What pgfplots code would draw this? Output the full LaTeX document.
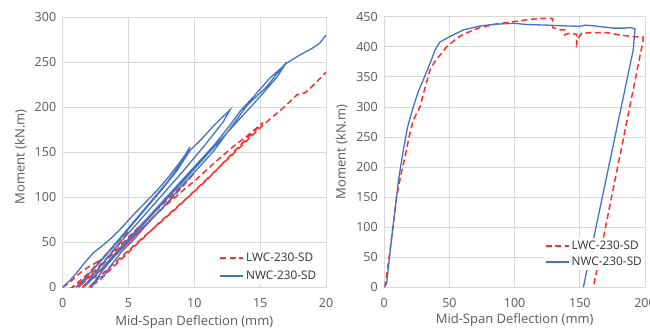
\documentclass[border=0pt]{standalone}
\usepackage{fontspec}
\setmainfont{Open Sans}
\usepackage{pgfplots}
\pgfplotsset{compat=1.18}
\definecolor{tickgray}{RGB}{89,89,89}
\definecolor{gridgray}{RGB}{217,217,217}
\definecolor{lwcred}{RGB}{255,45,45}
\definecolor{nwcblue}{RGB}{68,114,196}
\pgfplotsset{
  chartbase/.style={
    scale only axis,
    anchor=south west,
    /pgf/number format/assume math mode=true,
    grid=major,
    grid style={draw=gridgray, line width=0.8pt},
    axis line style={draw=gridgray, line width=0.8pt},
    major tick length=0pt,
    tick label style={font=\fontsize{12.5}{14}\selectfont, text=tickgray},
    xticklabel style={yshift=-8pt},
    yticklabel style={xshift=-3pt},
    label style={font=\fontsize{13}{15}\selectfont, text=tickgray},
    ymin=0,
    legend cell align=left,
    legend style={draw=none, fill=white, font=\fontsize{11.8}{13}\selectfont, text=black!80, inner sep=1pt},
    legend image code/.code={\draw[#1, line width=1.5pt] (0pt,0pt) -- (23pt,0pt);},
    clip=true,
  },
  lwc/.style={color=lwcred, line width=1.5pt, dash pattern=on 6pt off 3.5pt},
  nwc/.style={color=nwcblue, line width=1.3pt},
}
\begin{document}
\begin{tikzpicture}[x=1pt,y=1pt]
\clip (0,0) rectangle (650,329);
% ---------------- left panel ----------------
\begin{axis}[chartbase,
  at={(62.7pt,41.7pt)}, width=263.3pt, height=270pt,
  xmin=0, xmax=20, ymax=300,
  xtick={0,5,10,15,20}, ytick={0,50,100,150,200,250,300},
  xlabel={Mid-Span Deflection (mm)}, ylabel={Moment (kN.m)},
  xlabel style={at={(axis description cs:0.5,-0.127)}, anchor=center},
  ylabel style={at={(axis description cs:-0.1595,0.484)}, anchor=center},
  legend style={at={(axis description cs:0.975,0.012)}, anchor=south east, row sep=4pt},
]
\addplot[lwc] coordinates {
(0,0)(0.5,5)(1,12)(1.5,18)(2,23)(2.6,28)
(2.2,18)(1.6,8)(1.1,2)(0.7,0)
(1.2,6)(2,16)(2.6,26)(3.5,40)(4.3,52)(5,62)
(4.3,48)(3.2,30)(2,12)(1.2,0)
(1.8,8)(2.7,20)(3.7,36)(5,56)(6.5,77)(8,98)(9,112)(10,127)
(8.5,102)(7,80)(5,50)(3.5,28)(2.2,10)(1.5,0)
(2.2,8)(3.5,28)(5,50)(7,80)(9,106)(10,118)(11.5,138)(13,157)(14,168)(15.2,183)
(13.5,158)(11,120)(8.5,86)(6,54)(4,28)(2.8,12)(2,0)
(2.8,8)(4,25)(5.5,46)(7.5,74)(9.5,100)(11.5,128)(13.5,156)(15.2,180)(16,190)(16.8,200)(17.8,214)(18.4,216)(19,224)(20,239)
};
\addlegendentry{LWC-230-SD}
\addplot[nwc] coordinates {
(0,0)(0.5,7)(1,15)(1.6,26)(2.3,38)(3,46)(3.8,56)(4.6,68)(5.4,81)(6.2,93)(7,105)(7.9,120)(8.8,137)(9.3,147)(9.67,156)
(9.2,142)(8,118)(6.5,92)(5,66)(3.5,40)(2.3,20)(1.5,6)(1,0)
(1.4,6)(2.2,18)(3.2,34)(4.5,56)(6,82)(7.5,108)(8.7,130)(9.67,152)(10.5,164)(11.5,180)(12.2,190)(12.7,197)
(12.2,184)(10.8,158)(9.2,130)(7.4,100)(5.6,70)(4,44)(2.8,22)(2,8)(1.6,0)
(2,6)(2.8,18)(4,38)(5.5,62)(7,86)(8.5,110)(10,134)(11.5,158)(12.7,180)(13.5,196)(14.7,215)(15.7,232)(16.7,245)(17,250)
(16.3,234)(15,212)(13.5,188)(12,164)(10.4,138)(8.8,112)(7,84)(5.4,58)(4,36)(3,18)(2.5,8)(2.2,0)
(2.3,5)(2.7,9)(2.5,11)(3.1,12)(3.6,23)(4.5,40)(5.4,53)(6.4,70)(7.9,93)(9,112)(10.4,134)(11.5,152)(13,182)(14,202)(15.5,223)(16.3,238)(17,249)(18,258)(19,266)(19.5,271)(20,280)
};
\addlegendentry{NWC-230-SD}
\end{axis}
% ---------------- right panel ----------------
\begin{axis}[chartbase,
  at={(384.3pt,41.7pt)}, width=260.7pt, height=270.6pt,
  xmin=0, xmax=200, ymax=450,
  xtick={0,50,100,150,200}, ytick={0,50,100,150,200,250,300,350,400,450},
  xlabel={Mid-Span Deflection (mm)}, ylabel={Moment (kN.m)},
  xlabel style={at={(axis description cs:0.5,-0.121)}, anchor=center},
  ylabel style={at={(axis description cs:-0.163,0.5)}, anchor=center},
  legend style={at={(axis description cs:1.0,0.063)}, anchor=south east, row sep=2pt},
]
\addplot[lwc] coordinates {
(0,0)(1,8)(2.5,30)(4.4,62)(9.5,150)(12.5,185)(15.9,217)(19,250)(22.2,278)(27.4,300)(31,330)(35,361)(38.5,375)(42.7,386)(47.9,400)(55,413)(60.6,421)(73.4,432)(86.2,438)(99,441.7)(111.8,445.6)(120,447)(127,447.5)(129.2,447)(129.2,432)(132,430)(134,428)(138.6,428)(138.6,420)(141,422)(147.6,421)(147.6,405)(149,415)(151.4,422.4)(160,423.5)(170.6,423.5)(180,420)(190,417)(198.5,416)(198.5,410)(160.4,0)
};
\addlegendentry{LWC-230-SD}
\addplot[nwc] coordinates {
(0,0)(1.8,6.6)(5,70)(8.2,128.5)(11,180)(14.6,228)(18,268)(22.2,300)(26,325)(29.9,345)(35,372)(39,395)(42.7,408)(50.4,417)(60.6,428)(73.4,434.5)(85,437.5)(99,439)(110,437)(124.6,436)(135,435)(150,434)(154,436)(160,435)(175.7,431)(185,431)(188.5,432)(192.3,430)(191,395)(152.7,0)
};
\addlegendentry{NWC-230-SD}
\end{axis}
\end{tikzpicture}
\end{document}
